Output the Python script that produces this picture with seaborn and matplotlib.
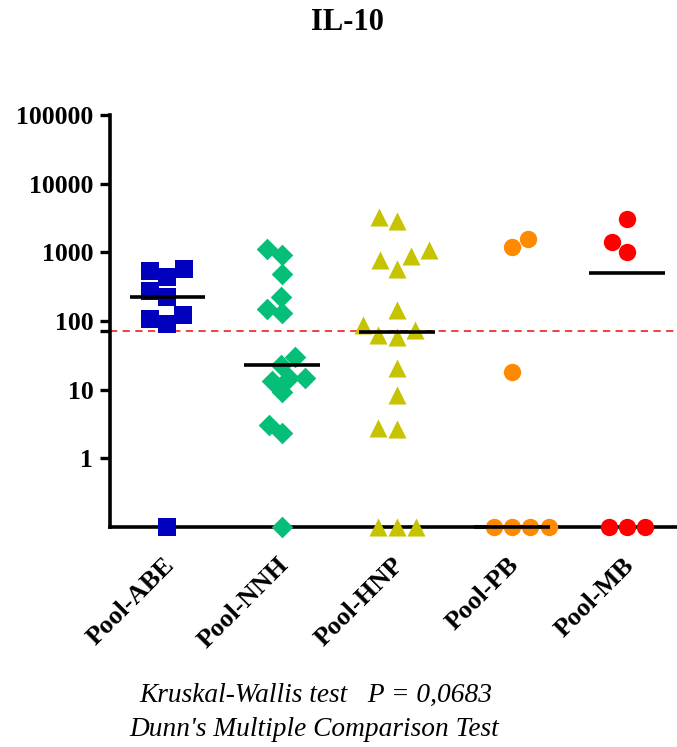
import numpy as np
import pandas as pd
import matplotlib
matplotlib.use("Agg")
import matplotlib.pyplot as plt
import seaborn as sns

# ---- data (0 = below detection, drawn on the baseline) ----
groups = ["Pool-ABE", "Pool-NNH", "Pool-HNP", "Pool-PB", "Pool-MB"]
abe = [0, 91, 108, 123, 223, 269, 434, 531, 567]
nnh = [0, 2.3, 3.1, 9.1, 13.4, 14.6, 14.8, 23, 30, 132, 148, 220, 491, 926, 1117]
hnp = [0, 0, 0, 2.7, 2.8, 8.5, 21, 59, 62, 75, 88, 144, 580, 766, 875, 1069, 2880, 3250]
pb = [0, 0, 0, 0, 17.8, 1194, 1543]
mb = [0, 0, 0, 1010, 1410, 3040]
series = [abe, nnh, hnp, pb, mb]
colors = ["#0000BE", "#05BF78", "#C6C300", "#FF8A00", "#FF0000"]
markers = ["s", "D", "^", "o", "o"]
marker_sizes = [12.5, 11, 13, 12.5, 12.5]
cutoff = 72
y_ticks = [1, 10, 100, 1000, 10000, 100000]
y_tick_labels = ["1", "10", "100", "1000", "10000", "100000"]
y_floor = 0.1
title = "IL-10"
note1 = "Kruskal-Wallis test   P = 0,0683"
note2 = "Dunn's Multiple Comparison Test"

rows = []
for g, vals in zip(groups, series):
    for v in vals:
        rows.append({"group": g, "value": v, "plot": v if v > 0 else y_floor})
df = pd.DataFrame(rows)

sns.set_style("ticks")
plt.rcParams["font.family"] = ["Liberation Serif", "DejaVu Serif"]
plt.rcParams["text.color"] = "black"
plt.rcParams["xtick.color"] = "black"
plt.rcParams["ytick.color"] = "black"
plt.rcParams["axes.labelcolor"] = "black"

fig = plt.figure(figsize=(6.77, 7.47), dpi=100)
ax = fig.add_axes([110 / 677, (747 - 527) / 747, 1 - 110 / 677, (527 - 115) / 747])
ax.set_yscale("log")
ax.set_ylim(y_floor, 100000)

for g, c, m, s in zip(groups, colors, markers, marker_sizes):
    sub = df[df["group"] == g]
    sns.swarmplot(data=sub, x="group", y="plot", order=groups, color=c,
                  marker=m, size=s, linewidth=0, ax=ax, zorder=3, clip_on=False)

ax.set_yscale("log")
ax.set_ylim(y_floor, 100000)
ax.set_xlim(-0.5, 4.435)

# medians
for i, vals in enumerate(series):
    med = float(np.median(vals))
    ax.hlines(max(med, y_floor), i - 0.33, i + 0.33, color="black", lw=2.6,
              zorder=4, clip_on=False)

ax.axhline(cutoff, color="#F03030", ls=(0, (4, 3)), lw=1.3, zorder=2)

ax.set_yticks(y_ticks + [cutoff])
ax.set_yticklabels(y_tick_labels + [""])
ax.yaxis.set_minor_locator(matplotlib.ticker.NullLocator())
ax.tick_params(axis="y", length=7, width=2.4, labelsize=18.5, pad=5,
               color="black", labelcolor="black")
for lab in ax.get_yticklabels():
    lab.set_fontweight("bold")
ax.tick_params(axis="x", length=4, width=2, color="black", pad=15, labelcolor="black")
ax.set_xticks(range(len(groups)))
ax.set_xticklabels(groups, rotation=45, ha="right", va="top",
                   rotation_mode="anchor", fontsize=19, fontweight="bold")
for lab in ax.get_xticklabels():
    lab.set_transform(lab.get_transform() + matplotlib.transforms.ScaledTranslation(-0.05, 0.0, fig.dpi_scale_trans))

ax.set_xlabel("")
ax.set_ylabel("")
for side in ["top", "right"]:
    ax.spines[side].set_visible(False)
for side in ["left", "bottom"]:
    ax.spines[side].set_linewidth(2.6)
    ax.spines[side].set_color("black")

fig.text(347 / 677, 1 - 23 / 747, title, ha="center", va="center",
         fontsize=22, fontweight="bold", color="black")
fig.text(316 / 677, 1 - 695 / 747, note1, ha="center", va="center",
         fontsize=19.7, style="italic", color="black")
fig.text(314 / 677, 1 - 730 / 747, note2, ha="center", va="center",
         fontsize=19.7, style="italic", color="black")

fig.savefig("out.png", dpi=100)
